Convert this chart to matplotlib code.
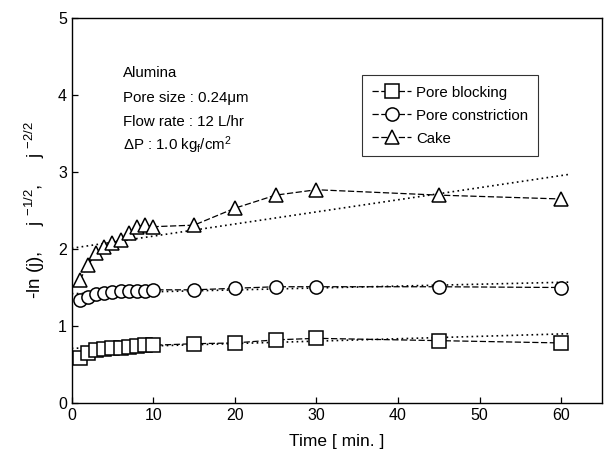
import matplotlib
matplotlib.use("Agg")
import matplotlib.pyplot as plt
import numpy as np

plt.rcParams['font.family'] = ['Liberation Sans', 'DejaVu Sans']
plt.rcParams['mathtext.fontset'] = 'custom'
plt.rcParams['mathtext.rm'] = 'Liberation Sans'
plt.rcParams['mathtext.it'] = 'Liberation Sans'

time = [1, 2, 3, 4, 5, 6, 7, 8, 9, 10, 15, 20, 25, 30, 45, 60]
pore_blocking = [0.58, 0.65, 0.69, 0.70, 0.71, 0.72, 0.73, 0.74, 0.75, 0.75,
                 0.77, 0.78, 0.82, 0.84, 0.81, 0.78]
pore_constriction = [1.34, 1.38, 1.42, 1.43, 1.44, 1.45, 1.45, 1.46, 1.46, 1.47,
                     1.47, 1.49, 1.51, 1.51, 1.51, 1.50]
cake = [1.60, 1.79, 1.95, 2.03, 2.08, 2.12, 2.21, 2.29, 2.31, 2.29,
        2.31, 2.53, 2.70, 2.77, 2.70, 2.65]

fit_t = [0, 61]
fit_blocking = [0.71, 0.90]
fit_constriction = [1.42, 1.57]
fit_cake = [2.01, 2.97]

series_labels = ["Pore blocking", "Pore constriction", "Cake"]
notes = ["Alumina", "Pore size : 0.24\u03bcm", "Flow rate : 12 L/hr",
         "\u0394P : 1.0 kg$_f$/cm$^2$"]

fig = plt.figure(figsize=(6.05, 4.63), dpi=100)
ax = fig.add_axes([0.1185, 0.1296, 0.995 - 0.1185, 0.961 - 0.1296])

for y, m, lab in zip([pore_blocking, pore_constriction, cake], ['s', 'o', '^'], series_labels):
    ax.plot(time, y, color='black', lw=0.9, marker=m, ms=9.5, mfc='white',
            mec='black', mew=1.1, label=lab, dashes=(5, 2), zorder=3)

for fy in [fit_blocking, fit_constriction, fit_cake]:
    ax.plot(fit_t, fy, color='black', lw=1.2, ls=(0, (1, 2)), zorder=2)

ax.set_xlim(0, 65)
ax.set_ylim(0, 5)
ax.set_xticks([0, 10, 20, 30, 40, 50, 60])
ax.set_yticks([0, 1, 2, 3, 4, 5])
ax.tick_params(direction='in', labelsize=11.5, length=4, width=0.9)
for s in ax.spines.values():
    s.set_linewidth(1.0)

ax.set_xlabel("Time [ min. ]", fontsize=12.5, labelpad=8)
ax.set_ylabel("-ln (j),     j $^{-1/2}$,     j $^{-2/2}$", fontsize=13.5, labelpad=8)

ys = [4.29, 3.96, 3.65, 3.35]
for txt, yy in zip(notes, ys):
    ax.text(6.3, yy, txt, fontsize=10.8, va='center', ha='left')

leg = ax.legend(loc='upper left', bbox_to_anchor=(0.547, 0.852), fontsize=10.8,
                frameon=True, fancybox=False, edgecolor='black', handlelength=2.6,
                handletextpad=0.3, borderpad=0.7, labelspacing=0.6, borderaxespad=0)
leg.get_frame().set_linewidth(0.8)

fig.savefig("out.png", dpi=100)
